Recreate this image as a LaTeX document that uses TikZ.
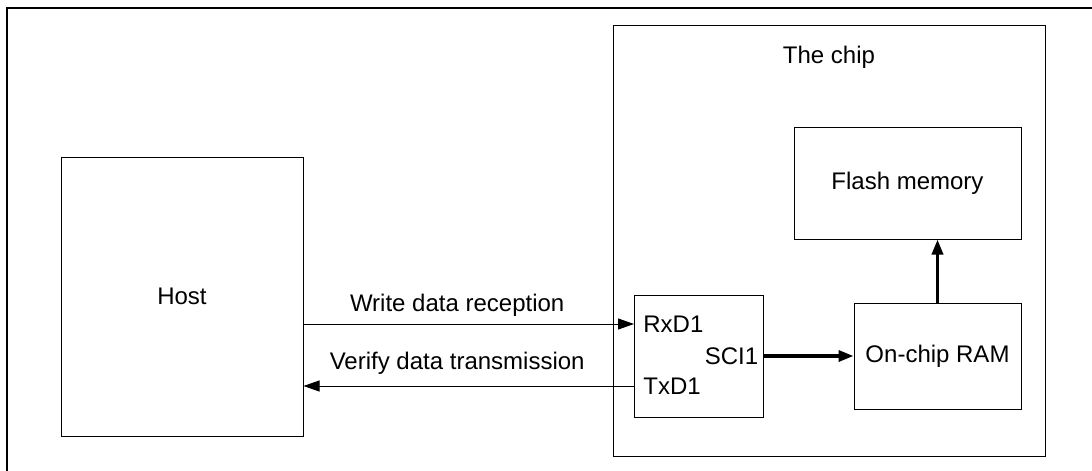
\documentclass[tikz,border=0pt]{standalone}
\usepackage{fontspec}
\setmainfont{Liberation Sans}
\usetikzlibrary{arrows.meta,positioning}

\begin{document}
\begin{tikzpicture}[x=0.5pt,y=-0.5pt,
    font=\fontsize{12}{14}\selectfont,
    box/.style={draw,line width=0.5pt,inner sep=0pt},
    sig/.style={line width=0.5pt,-{Triangle[length=8pt,width=5.5pt]}},
    bus/.style={line width=1.7pt,-{Triangle[length=7.5pt,width=5.5pt]}}]
    \useasboundingbox (0,0) rectangle (1092,471);

    % outer frame (cut on the right and bottom)
    \coordinate (frameNW) at (7,8);
    \coordinate (frameNE) at (1092,8);
    \coordinate (frameSW) at (7,471);
    \draw[line width=0.8pt] (frameSW) -- (frameNW) -- (frameNE);

    % host
    \node[box,minimum width=121pt,minimum height=139.5pt] (host) at (182,296.5) {Host};

    % the chip
    \begin{scope}
        \node[box,minimum width=216pt,minimum height=215.5pt] (chip) at (829,240.5) {};
        \node (chiplabel) at ([yshift=-16.5pt]chip.north) {The chip};
        \node[box,minimum width=64.5pt,minimum height=61pt] (sci) at (698.5,356) {};
        \node[box,minimum width=83.5pt,minimum height=53pt] (ram) at (937.5,356) {On-chip RAM};
        \node[box,minimum width=113.5pt,minimum height=56pt] (flash) at (907.5,183) {Flash memory};

        \coordinate (rxin) at (634,324);
        \coordinate (txout) at (634,386);
        \node[anchor=west,inner sep=4.5pt] (rxd) at (rxin) {RxD1};
        \node[anchor=west,inner sep=4.5pt] (txd) at (txout) {TxD1};
        \node[anchor=east,inner sep=2.5pt] (scilabel) at (sci.east) {SCI1};

        \draw[bus] (sci.east) -- (ram.west);
        \draw[bus] (ram.north) -- (ram.north |- flash.south);
    \end{scope}

    % serial lines
    \draw[sig] (host.east |- rxin) -- node[pos=0.465,above] {Write data reception} (rxin);
    \draw[sig] (txout) -- node[pos=0.535,above=2pt] {Verify data transmission} (host.east |- txout);
\end{tikzpicture}
\end{document}
